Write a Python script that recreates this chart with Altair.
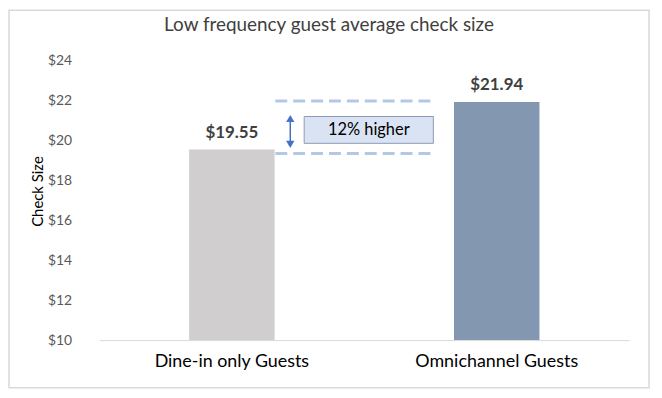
import altair as alt
import pandas as pd

categories = ["Dine-in only Guests", "Omnichannel Guests"]
values = [19.55, 21.94]
bar_colors = ["#d0cece", "#8497b0"]
value_labels = ["$19.55", "$21.94"]
diff_label = "12% higher"
chart_title = "Low frequency guest average check size"
y_ticks = [10, 12, 14, 16, 18, 20, 22, 24]

df = pd.DataFrame({"cat": categories, "val": values, "color": bar_colors, "label": value_labels})
FONT = "Lato"

x_enc = alt.X("cat:N", sort=categories, title=None,
              scale=alt.Scale(paddingInner=0, paddingOuter=0),
              axis=alt.Axis(labelAngle=0, labelFontSize=18, labelColor="#000000", labelFont=FONT,
                            ticks=False, domainColor="#d9d9d9", labelPadding=13))
y_scale = alt.Scale(domain=[10, 24], nice=False, zero=False)
y_enc = alt.Y("val:Q", scale=y_scale, title="Check Size",
              axis=alt.Axis(values=y_ticks, format="$.0f", labelFontSize=14, labelColor="#595959",
                            labelFont=FONT, grid=False, ticks=False, domain=False, labelPadding=28,
                            titleFontSize=15, titleFontWeight="normal", titleColor="#000000",
                            titleFont=FONT, titleAngle=-90, titleAlign="center",
                            titleBaseline="alphabetic", titleX=-57, titleY=131))

base = alt.Chart(df)

bars = base.mark_bar(size=86).encode(
    x=x_enc, y=y_enc, y2=alt.datum(10),
    color=alt.Color("color:N", scale=None),
)

labels = base.mark_text(dy=-17, fontSize=17, fontWeight="bold", color="#404040", font=FONT).encode(
    x=alt.X("cat:N", sort=categories), y=alt.Y("val:Q", scale=y_scale), text="label:N"
)

dash_top = alt.Chart(pd.DataFrame({"v": [values[1]]})).mark_rule(
    strokeDash=[12, 6], strokeWidth=3, color="#b4c7e7", yOffset=-1).encode(
    y=alt.Y("v:Q", scale=y_scale), x=alt.value(177), x2=alt.value(337),
)
dash_bot = alt.Chart(pd.DataFrame({"v": [values[0]]})).mark_rule(
    strokeDash=[12, 6], strokeWidth=3, color="#b4c7e7", yOffset=4).encode(
    y=alt.Y("v:Q", scale=y_scale), x=alt.value(177), x2=alt.value(337),
)

one = pd.DataFrame({"a": [0]})
arrow_line = alt.Chart(one).mark_rule(color="#4472c4", strokeWidth=1.5).encode(
    x=alt.value(192), y=alt.value(58), y2=alt.value(84)
)
arrow_up = alt.Chart(one).mark_point(shape="triangle-up", filled=True, size=70, color="#4472c4", opacity=1).encode(
    x=alt.value(192), y=alt.value(58)
)
arrow_down = alt.Chart(one).mark_point(shape="triangle-down", filled=True, size=70, color="#4472c4", opacity=1).encode(
    x=alt.value(192), y=alt.value(84)
)
box = alt.Chart(one).mark_rect(fill="#dae3f3", stroke="#8c9bb5", strokeWidth=1).encode(
    x=alt.value(206), x2=alt.value(336), y=alt.value(56), y2=alt.value(83)
)
box_text = alt.Chart(pd.DataFrame({"t": [diff_label]})).mark_text(
    fontSize=16.5, color="#000000", font=FONT, baseline="middle").encode(
    x=alt.value(271), y=alt.value(70), text="t:N"
)
title_text = alt.Chart(pd.DataFrame({"t": [chart_title]})).mark_text(
    fontSize=19, color="#404040", font=FONT, baseline="alphabetic").encode(
    x=alt.value(231), y=alt.value(-30), text="t:N"
)
border = alt.Chart(one).mark_rect(fill=None, stroke="#d9d9d9", strokeWidth=1.5).encode(
    x=alt.value(-91), x2=alt.value(553), y=alt.value(-51), y2=alt.value(329)
)

chart = alt.layer(border, bars, labels, dash_top, dash_bot, arrow_line, arrow_up, arrow_down,
                  box, box_text, title_text).properties(
    width=533, height=281,
    autosize=alt.AutoSizeParams(type="none"),
    padding={"left": 92, "top": 52, "right": 25, "bottom": 48},
).configure_view(stroke=None)

chart.save("out.html", embed_options={"renderer": "svg", "actions": False})
